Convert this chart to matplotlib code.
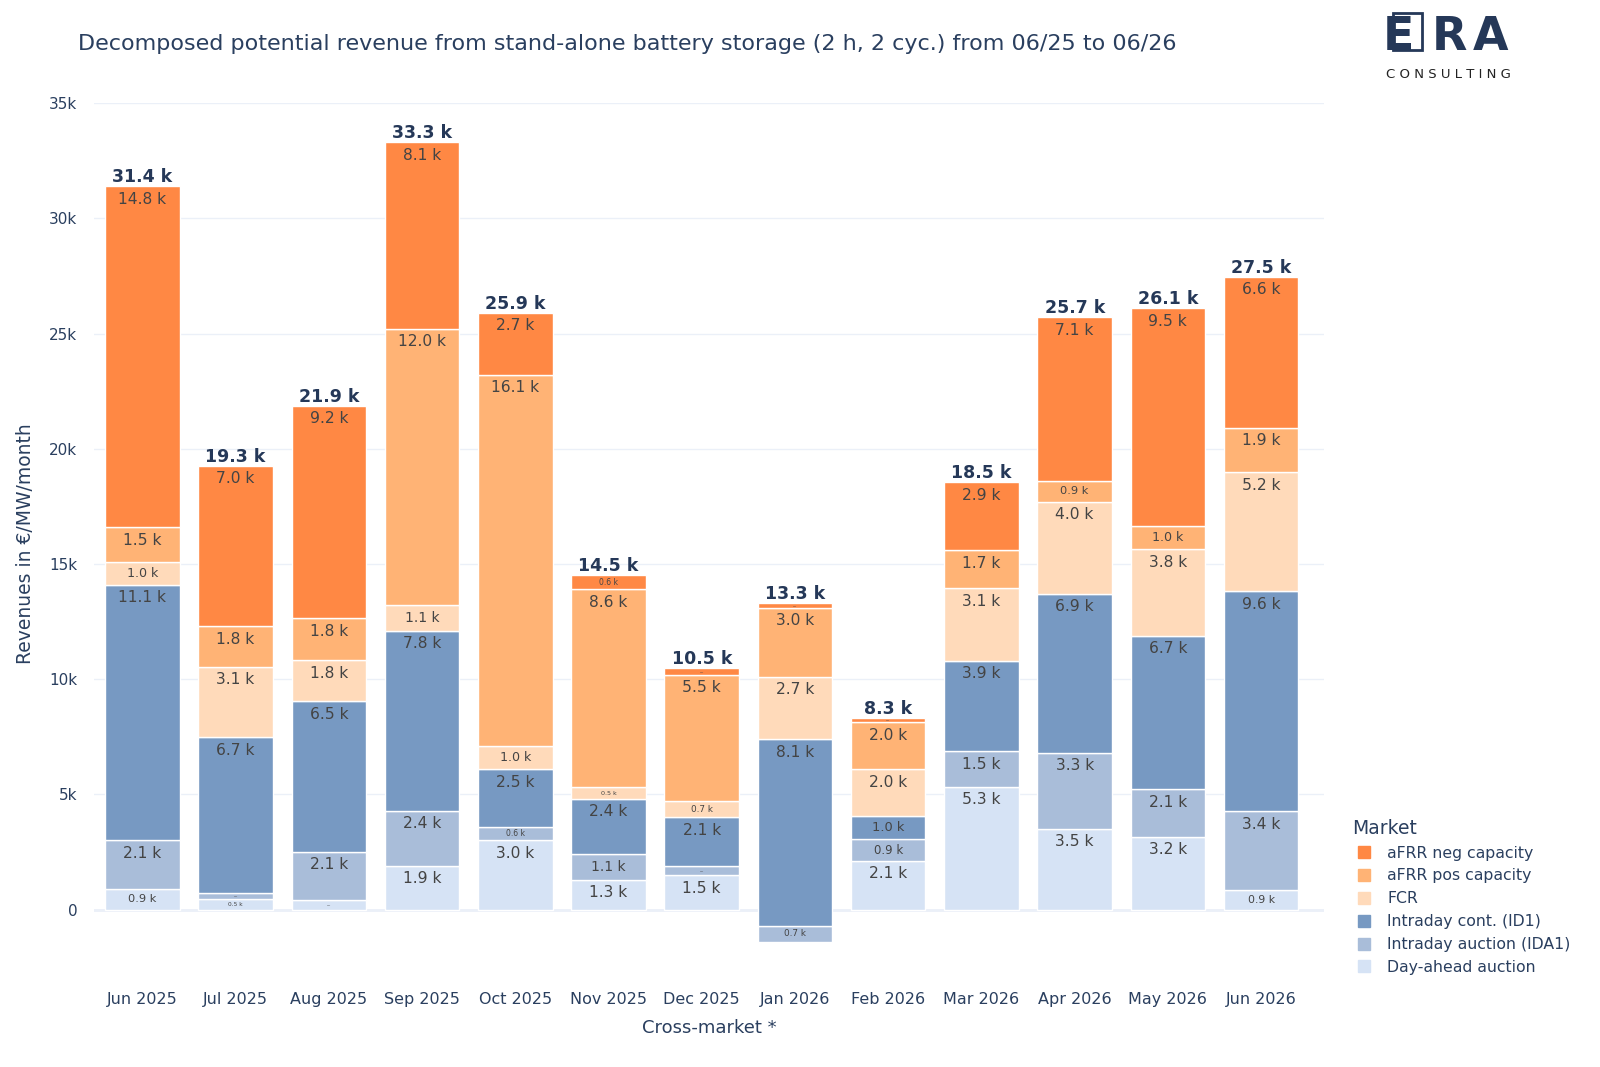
import numpy as np
import matplotlib.pyplot as plt
from matplotlib.lines import Line2D
from matplotlib.patches import Rectangle

plt.rcParams['font.family'] = ['DejaVu Sans']

months = ['Jun 2025', 'Jul 2025', 'Aug 2025', 'Sep 2025', 'Oct 2025', 'Nov 2025', 'Dec 2025',
          'Jan 2026', 'Feb 2026', 'Mar 2026', 'Apr 2026', 'May 2026', 'Jun 2026']

markets = ['Day-ahead auction', 'Intraday auction (IDA1)', 'Intraday cont. (ID1)',
           'FCR', 'aFRR pos capacity', 'aFRR neg capacity']
colors = ['#D6E3F5', '#A9BDD9', '#7799C2', '#FFDABA', '#FFB375', '#FF8844']

# revenues in k EUR / MW / month
day_ahead = [0.9, 0.46, 0.42, 1.9, 3.0, 1.3, 1.5, 0.0, 2.12, 5.33, 3.5, 3.16, 0.86]
ida1 = [2.1, 0.28, 2.08, 2.4, 0.6, 1.1, 0.4, -0.7, 0.93, 1.54, 3.3, 2.06, 3.40]
id1 = [11.1, 6.74, 6.54, 7.8, 2.5, 2.4, 2.1, 8.1, 1.03, 3.93, 6.9, 6.66, 9.56]
fcr = [1.0, 3.06, 1.78, 1.1, 1.0, 0.5, 0.7, 2.7, 2.02, 3.14, 4.0, 3.76, 5.16]
afrr_pos = [1.5, 1.76, 1.82, 12.0, 16.1, 8.6, 5.5, 3.0, 2.04, 1.66, 0.9, 1.0, 1.92]
afrr_neg = [14.8, 6.96, 9.22, 8.1, 2.7, 0.6, 0.3, 0.2, 0.18, 2.94, 7.1, 9.46, 6.56]

navy = '#253858'
text_col = '#2a3f5f'

series = np.array([day_ahead, ida1, id1, fcr, afrr_pos, afrr_neg])
x = np.arange(len(months))

fig = plt.figure(figsize=(16, 10.67), dpi=100)
ax = fig.add_axes([0.0587, 0.0784, 0.7691, 0.8250])
ymin, ymax = -3.2, 35.0
ax.set_ylim(ymin, ymax)
ax.set_xlim(-0.52, 12.68)

# px per k
ax_h_px = 0.8250 * 1067
px_per_k = ax_h_px / (ymax - ymin)

base = np.zeros(len(months))
for vals, name, col in zip(series, markets, colors):
    bottom = np.where(vals < 0, base + vals, base)
    ax.bar(x, vals, 0.8, bottom=bottom, color=col, edgecolor='white', linewidth=1, label=name, zorder=3)
    for xi, v, b in zip(x, vals, bottom):
        if v == 0:
            continue
        h = abs(v) * px_per_k
        lo = min(b, b + v)
        hi = max(b, b + v)
        if h < 10:
            ax.text(xi, (lo + hi) / 2, '...', ha='center', va='center', fontsize=3.5,
                    color='#444444', zorder=4)
            continue
        fs_px = min(15.5, 0.55 * h)
        label = f'{abs(v):.1f} k'
        if fs_px >= 15.5:
            ax.annotate(label, (xi, hi), xytext=(0, -13 * 0.72), textcoords='offset points',
                        ha='center', va='center', fontsize=fs_px * 0.72, color='#444444', zorder=4)
        else:
            ax.text(xi, (lo + hi) / 2, label, ha='center', va='center', fontsize=fs_px * 0.72,
                    color='#444444', zorder=4)
    base = base + vals

totals = series.sum(axis=0)
for xi, t in zip(x, totals):
    ax.annotate(f'{t:.1f} k', (xi, t), xytext=(0, 6.5), textcoords='offset points',
                ha='center', va='center', fontsize=12.5, fontweight='bold', color=navy, zorder=4)

# axes styling
ax.set_yticks(np.arange(0, 35.1, 5))
ax.set_yticklabels(['0'] + [f'{int(v)}k' for v in np.arange(5, 35.1, 5)])
ax.set_xticks(x)
ax.set_xticklabels(months)
ax.tick_params(axis='x', length=0, labelsize=11.5, colors=text_col, pad=6)
ax.tick_params(axis='y', length=0, labelsize=11, colors=text_col, pad=12)
ax.grid(axis='y', color='#EBF0F8', linewidth=1, zorder=0)
ax.axhline(0, color='#EBF0F8', linewidth=2, zorder=1)
for s in ax.spines.values():
    s.set_visible(False)

ax.set_ylabel('Revenues in €/MW/month', fontsize=13.5, color=text_col, labelpad=10)
ax.set_xlabel('Cross-market *', fontsize=13, color=text_col, labelpad=9)

fig.text(0.049, 0.959, 'Decomposed potential revenue from stand-alone battery storage (2 h, 2 cyc.) from 06/25 to 06/26',
         fontsize=16, color=text_col, ha='left', va='center')

# legend
handles = [Line2D([], [], marker='s', linestyle='none', markersize=8.5, color=c)
           for c in colors[::-1]]
leg = fig.legend(handles, markets[::-1], title='Market', loc='upper left',
                 bbox_to_anchor=(0.840, 0.240), frameon=False, fontsize=11.3,
                 title_fontsize=13.5, labelspacing=0.5, handletextpad=0.75,
                 handlelength=1.5, borderpad=0, alignment='left')
for t in leg.get_texts():
    t.set_color(text_col)
leg.get_title().set_color(text_col)

# logo
fig.patches.append(Rectangle((1393 / 1600, 1 - 50 / 1067), 29 / 1600, 37 / 1067,
                             transform=fig.transFigure, fill=False, edgecolor=navy, linewidth=2))
for ch, cx in zip('ERA', [1398, 1449, 1491]):
    fig.text(cx / 1600, 1 - 37 / 1067, ch, fontsize=33, fontweight='bold', color=navy,
             ha='center', va='center', family='DejaVu Sans')
fig.text(1448 / 1600, 1 - 75 / 1067, 'C O N S U L T I N G', fontsize=9.5, color='#222222',
         ha='center', va='center')

fig.savefig('out.png', dpi=100)
